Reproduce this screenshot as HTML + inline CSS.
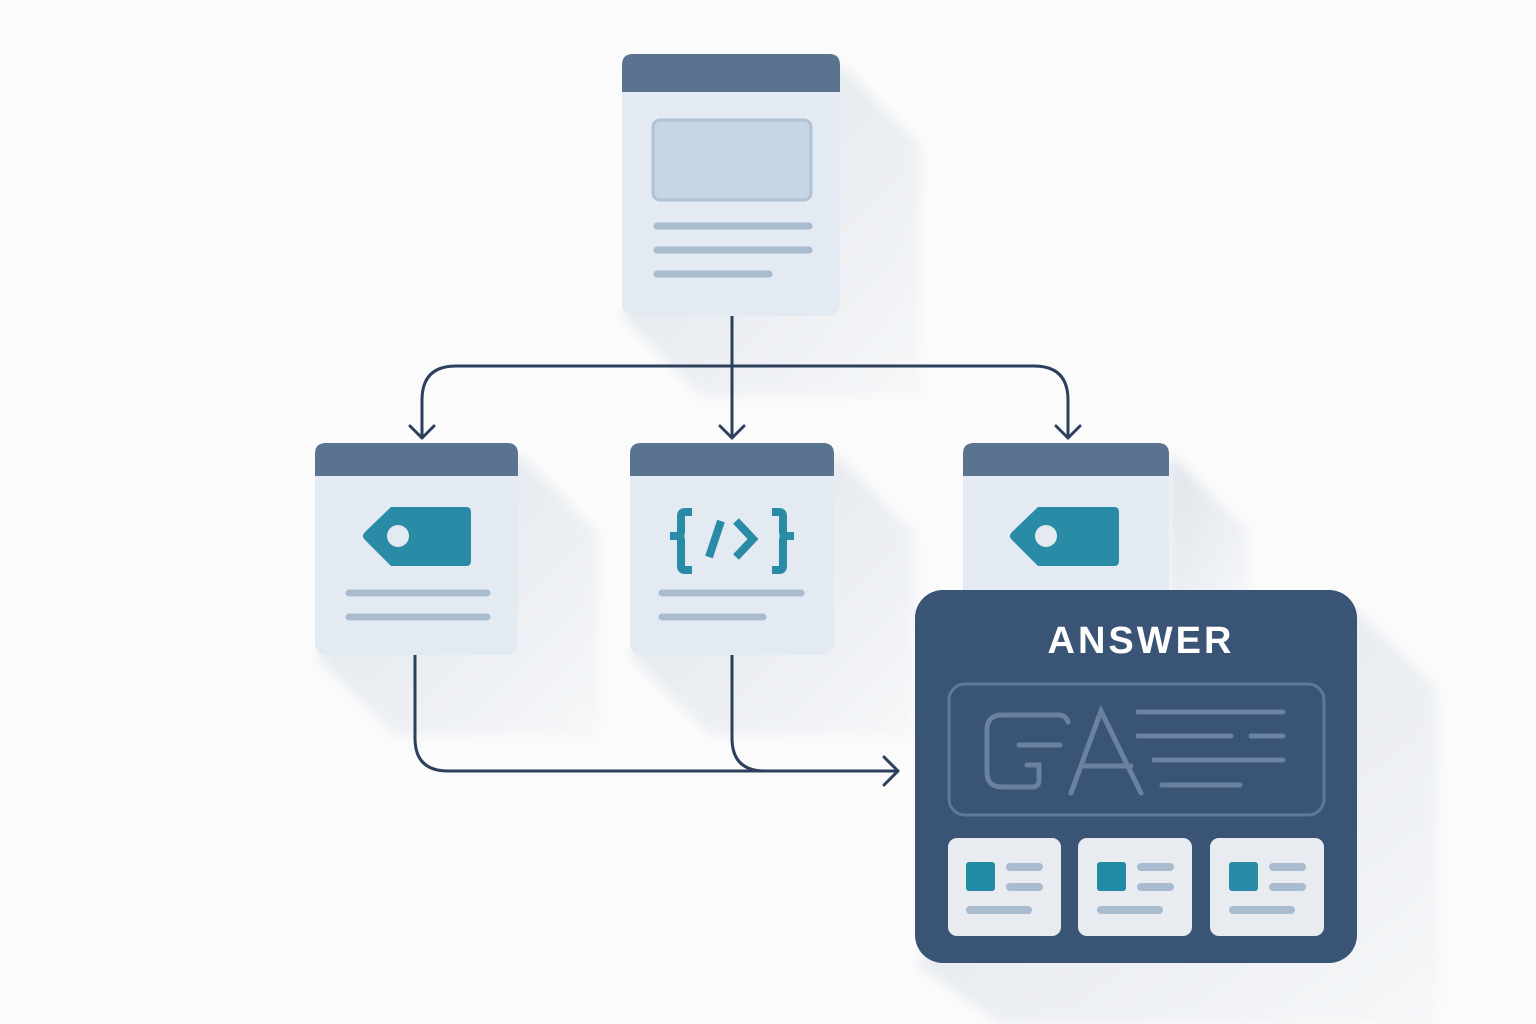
<!DOCTYPE html>
<html><head><meta charset="utf-8"><style>
html,body{margin:0;padding:0;background:#fbfbfb;}
svg{display:block;}
</style></head><body>
<svg width="1536" height="1024" viewBox="0 0 1536 1024" xmlns="http://www.w3.org/2000/svg">
<defs>
<filter id="bl" x="-20%" y="-20%" width="140%" height="140%"><feGaussianBlur stdDeviation="6"/></filter>
<linearGradient id="sg" x1="0" y1="0" x2="1" y2="1"><stop offset="0" stop-color="#dde3ea"/><stop offset="1" stop-color="#f6f7f9"/></linearGradient>
</defs>
<rect width="1536" height="1024" fill="#fbfbfb"/>
<g filter="url(#bl)" fill="url(#sg)">
<polygon points="840,64 920,144 920,396 700,396 622,316"/>
<polygon points="518,453 598,533 598,735 395,735 315,655"/>
<polygon points="834,453 914,533 914,735 710,735 630,655"/>
<polygon points="1169,453 1249,533 1249,600 1169,600"/>
<polygon points="1357,610 1437,690 1437,1024 1000,1024 915,963"/>
</g>
<g fill="none" stroke="#2c405e" stroke-width="3" stroke-linecap="round" stroke-linejoin="round">
<path d="M732 316 V438"/>
<path d="M422 438 V400 Q422 366 456 366 H1034 Q1068 366 1068 400 V438"/>
<path d="M410 426 L422 438 L434 426"/>
<path d="M720 426 L732 438 L744 426"/>
<path d="M1056 426 L1068 438 L1080 426"/>
<path d="M415 655 V738 Q415 771 448 771 H898"/>
<path d="M732 655 V738 Q732 771 765 771"/>
<path d="M884 757 L898 771 L884 785"/>
</g>
<rect x="622" y="54" width="218" height="262" rx="11" fill="#e4eaf2"/>
<path d="M622 92 V65 Q622 54 633 54 H829 Q840 54 840 65 V92 Z" fill="#5a7490"/>
<rect x="653" y="120" width="158" height="80" rx="7" fill="#c5d5e3" stroke="#b0c3d5" stroke-width="3"/>
<g stroke="#a9bccf" stroke-width="7" stroke-linecap="round">
<line x1="657" y1="226" x2="809" y2="226"/><line x1="657" y1="250" x2="809" y2="250"/><line x1="657" y1="274" x2="769" y2="274"/>
</g>
<rect x="315" y="443" width="203" height="212" rx="11" fill="#e4eaf2"/>
<path d="M315 476 V454 Q315 443 326 443 H507 Q518 443 518 454 V476 Z" fill="#5a7490"/>
<path d="M391 507 H466 Q471 507 471 512 V561 Q471 566 466 566 H391 L365 540 Q361 536 365 532 Z" fill="#2a8ba7"/>
<circle cx="398" cy="536" r="11" fill="#e4eaf2"/>
<g stroke="#a9bccf" stroke-width="7" stroke-linecap="round">
<line x1="349" y1="593" x2="487" y2="593"/><line x1="349" y1="617" x2="487" y2="617"/>
</g>
<rect x="630" y="443" width="204" height="212" rx="11" fill="#e4eaf2"/>
<path d="M630 476 V454 Q630 443 641 443 H823 Q834 443 834 454 V476 Z" fill="#5a7490"/>
<g fill="none" stroke="#2a8ba7" stroke-width="8" stroke-linecap="butt" stroke-linejoin="miter">
<path d="M692 512 H685 Q681 512 681 516 V532 Q681 536 676 536 H670 M676 536 Q681 536 681 540 V566 Q681 570 685 570 H692"/>
<path d="M772 512 H779 Q783 512 783 516 V532 Q783 536 788 536 H794 M788 536 Q783 536 783 540 V566 Q783 570 779 570 H772"/>
<path d="M721 521 L709 557"/>
<path d="M736 521 L753 539 L736 557"/>
</g>
<g stroke="#a9bccf" stroke-width="7" stroke-linecap="round">
<line x1="662" y1="593" x2="801" y2="593"/><line x1="662" y1="617" x2="763" y2="617"/>
</g>
<rect x="963" y="443" width="206" height="160" rx="11" fill="#e4eaf2"/>
<path d="M963 476 V454 Q963 443 974 443 H1158 Q1169 443 1169 454 V476 Z" fill="#5a7490"/>
<path d="M1038 507 H1114 Q1119 507 1119 512 V561 Q1119 566 1114 566 H1038 L1012 540 Q1008 536 1012 532 Z" fill="#2a8ba7"/>
<circle cx="1046" cy="536" r="11" fill="#e4eaf2"/>
<rect x="915" y="590" width="442" height="373" rx="28" fill="#3a5475"/>
<text x="1141" y="653" text-anchor="middle" font-family="Liberation Sans, sans-serif" font-weight="bold" font-size="38" letter-spacing="3" fill="#ffffff">ANSWER</text>
<rect x="949" y="684" width="375" height="131" rx="16" fill="none" stroke="#5f7897" stroke-width="3"/>
<g fill="none" stroke="#6a82a0" stroke-width="5" stroke-linecap="round">
<path d="M1068 722 Q1066 715 1058 715 H1002 Q987 715 987 730 V772 Q987 787 1002 787 H1032 Q1039 787 1039 780 V765 H1027"/>
<path d="M1019 745 H1060"/>
<path d="M1071 793 L1101 711 L1141 793 M1084 766 H1131"/>
</g>
<g stroke="#6a82a0" stroke-width="5" stroke-linecap="round">
<line x1="1138" y1="712" x2="1283" y2="712"/>
<line x1="1138" y1="736" x2="1231" y2="736"/><line x1="1251" y1="736" x2="1283" y2="736"/>
<line x1="1154" y1="760" x2="1283" y2="760"/>
<line x1="1162" y1="785" x2="1240" y2="785"/>
</g>
<g>
<rect x="948" y="838" width="113" height="98" rx="9" fill="#e8ecf1"/>
<rect x="966" y="862" width="29" height="29" rx="3" fill="#1f8aa1"/>
<g stroke="#a9bccf" stroke-width="8" stroke-linecap="round"><line x1="1010" y1="867" x2="1039" y2="867"/><line x1="1010" y1="887" x2="1039" y2="887"/><line x1="970" y1="910" x2="1028" y2="910"/></g>
</g>
<g>
<rect x="1078" y="838" width="114" height="98" rx="9" fill="#e8ecf1"/>
<rect x="1097" y="862" width="29" height="29" rx="3" fill="#1f8aa1"/>
<g stroke="#a9bccf" stroke-width="8" stroke-linecap="round"><line x1="1141" y1="867" x2="1170" y2="867"/><line x1="1141" y1="887" x2="1170" y2="887"/><line x1="1101" y1="910" x2="1159" y2="910"/></g>
</g>
<g>
<rect x="1210" y="838" width="114" height="98" rx="9" fill="#e8ecf1"/>
<rect x="1229" y="862" width="29" height="29" rx="3" fill="#2a8ba7"/>
<g stroke="#a9bccf" stroke-width="8" stroke-linecap="round"><line x1="1273" y1="867" x2="1302" y2="867"/><line x1="1273" y1="887" x2="1302" y2="887"/><line x1="1233" y1="910" x2="1291" y2="910"/></g>
</g>
</svg>
</body></html>
